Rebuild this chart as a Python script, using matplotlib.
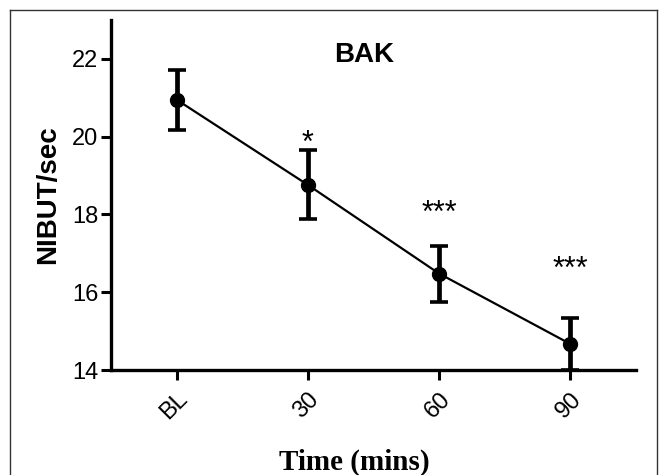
import numpy as np
import matplotlib.pyplot as plt
from matplotlib.lines import Line2D

etiquetas = ['BL', '30', '60', '90']
nibut = [20.95, 18.76, 16.48, 14.67]
sem = [0.77, 0.89, 0.72, 0.66]
signif = ['', '*', '***', '***']
altura_signif = [0, 19.99, 18.2, 16.76]

plt.rcParams['font.family'] = ['Liberation Sans', 'DejaVu Sans']

fig = plt.figure(figsize=(6.59, 4.75), dpi=100)
ax = fig.add_axes([0.1684, 0.221, 0.7966, 0.737])

x = np.arange(len(etiquetas))
ax.plot(x, nibut, color='black', lw=1.6, zorder=3)
ax.errorbar(x, nibut, yerr=sem, fmt='o', color='black', ms=10,
            elinewidth=3.4, capsize=6.5, capthick=2.6, zorder=4)

# asteriscos centrados en la altura leida (baseline un poco abajo)
for xi, s, yi in zip(x, signif, altura_signif):
    if s:
        ax.text(xi, yi - 0.38, s, ha='center', va='baseline', fontsize=22)

ax.text(1.43, 22.1, 'BAK', ha='center', va='center', fontsize=20, fontweight='bold')

ax.set_xlim(-0.5, 3.5)
ax.set_ylim(14, 23)
ax.set_yticks([14, 16, 18, 20, 22])
ax.set_xticks(x)
ax.set_xticklabels(etiquetas, rotation=45, ha='right', rotation_mode='anchor')
ax.tick_params(axis='both', length=7, width=2.2, labelsize=17, direction='out')
ax.tick_params(axis='x', pad=6)
ax.tick_params(axis='y', pad=2)

for lado in ['top', 'right']:
    ax.spines[lado].set_visible(False)
for lado in ['left', 'bottom']:
    ax.spines[lado].set_linewidth(2.4)

ax.set_ylabel('NIBUT/sec', fontsize=20, fontweight='bold', labelpad=8)
fig.text(354.5/659, 5/475, 'Time (mins)', fontsize=21, fontweight='bold',
         family=['Liberation Serif', 'DejaVu Serif'], ha='center', va='baseline')

# marco de la figura
for xs, ys in [([10/659, 10/659], [0, 465/475]),
               ([10/659, 657/659], [465/475, 465/475]),
               ([657/659, 657/659], [465/475, 0])]:
    fig.add_artist(Line2D(xs, ys, color='#333333', lw=1.0))

plt.savefig('out.png', dpi=100)
